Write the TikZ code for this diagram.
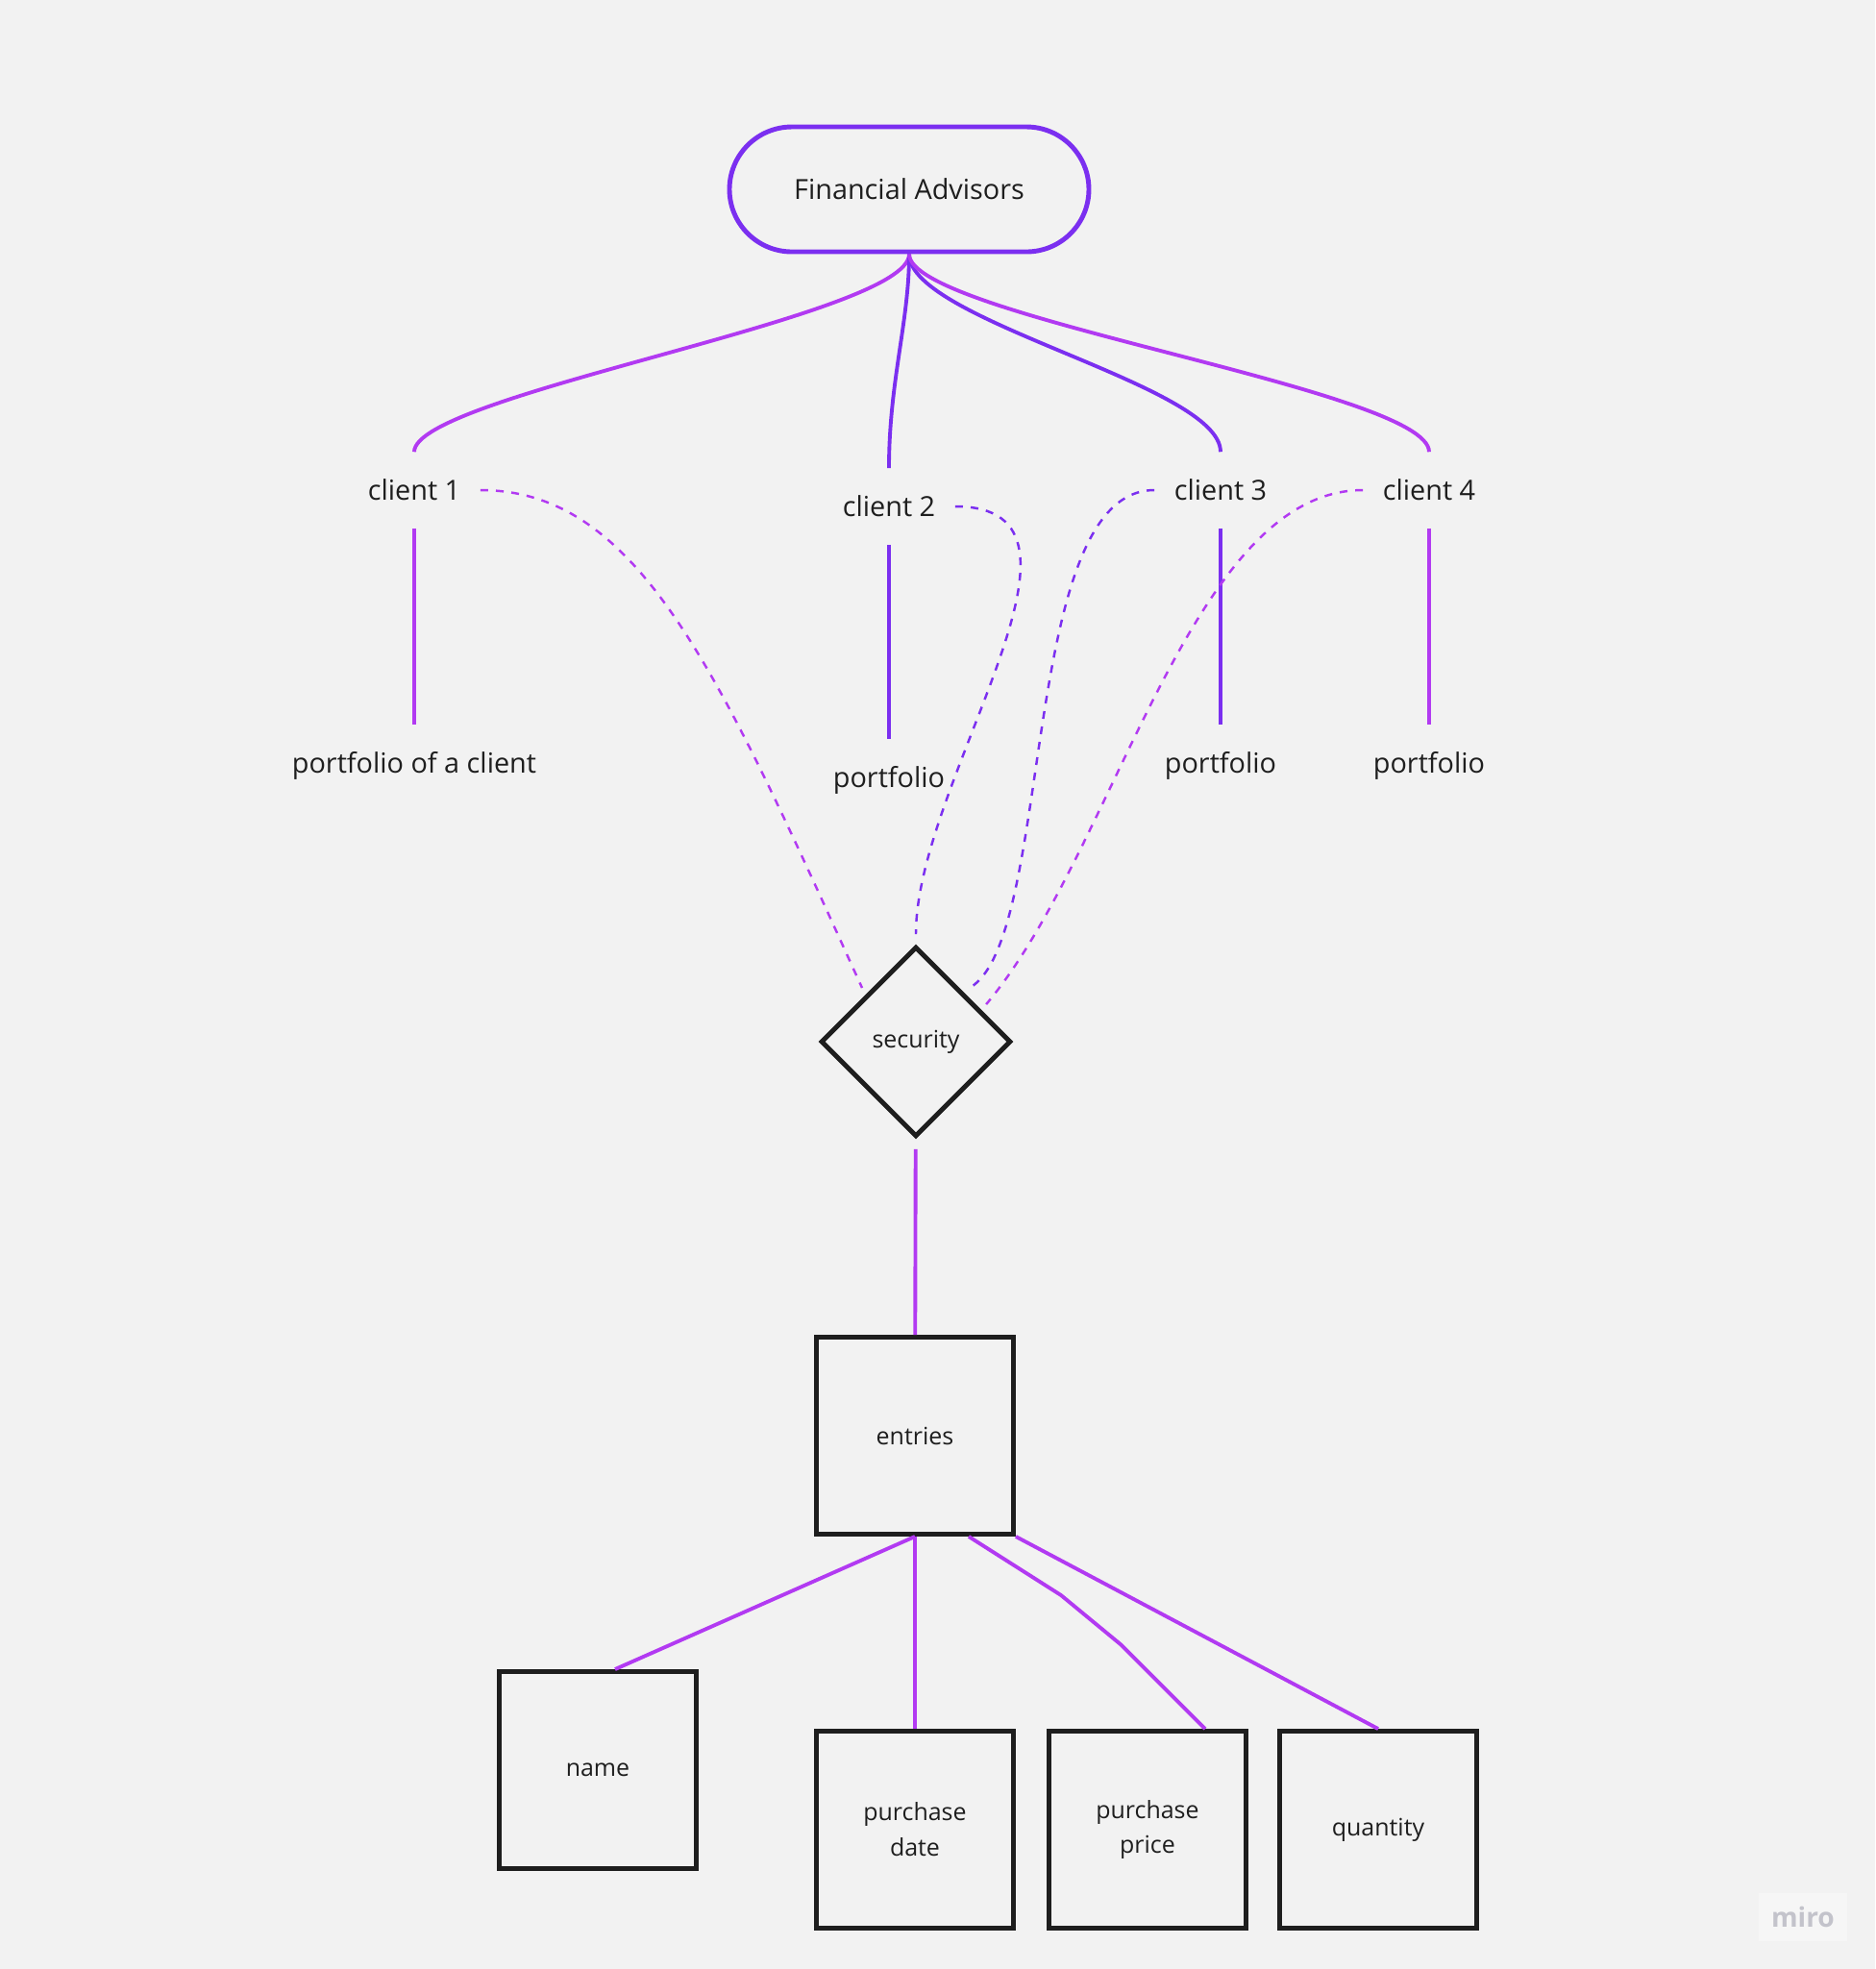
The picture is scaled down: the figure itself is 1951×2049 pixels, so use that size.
\documentclass[tikz,border=0pt]{standalone}
\usepackage{fontspec}
\setmainfont{Open Sans}
\usepackage{tikz}
\usetikzlibrary{shapes.geometric}
\usetikzlibrary{backgrounds}

\definecolor{bgcol}{HTML}{F2F2F2}
\definecolor{inkcol}{HTML}{1E1E1E}
\definecolor{violetline}{HTML}{7B2FF0}
\definecolor{pinkline}{HTML}{B23AF2}
\definecolor{mirogrey}{HTML}{C3C3CB}

\tikzset{
  pill/.style = {
    draw=violetline, line width=1.4pt, rounded corners=6.5mm,
    minimum width=37.4mm, minimum height=13mm,
    text=inkcol, font=\fontsize{8.2}{10}\selectfont,
  },
  clientlbl/.style = {
    inner xsep=2mm, inner ysep=2.8mm,
    text=inkcol, font=\fontsize{8.2}{10}\selectfont,
  },
  entity/.style = {
    draw=inkcol, line width=1.4pt, minimum size=20.5mm,
    inner sep=0pt, align=center,
    text=inkcol, font=\fontsize{7.1}{10.5}\selectfont,
  },
  relation/.style = {
    diamond, draw=inkcol, line width=1.4pt, minimum size=20.4mm,
    inner sep=0pt, outer sep=1mm,
    text=inkcol, font=\fontsize{7.1}{10}\selectfont,
  },
  link/.style = {dash pattern=on 2.3pt off 2.3pt, line width=0.7pt},
}

\begin{document}
\begin{tikzpicture}[x=0.1mm, y=-0.1mm]
        \fill[bgcol] (0,0) rectangle (1951,2049);
        \useasboundingbox (0,0) rectangle (1951,2049);

        \node[pill] (fa) at (946,197) {Financial Advisors};

        \node[clientlbl] (c1) at (431,510) {client 1};
        \node[clientlbl] (c2) at (925,527) {client 2};
        \node[clientlbl] (c3) at (1270,510) {client 3};
        \node[clientlbl] (c4) at (1487,510) {client 4};

        \node[clientlbl] (p1) at (431,797) {portfolio of a client};
        \node[clientlbl] (p2) at (925,812) {portfolio};
        \node[clientlbl] (p3) at (1270,797) {portfolio};
        \node[clientlbl] (p4) at (1487,797) {portfolio};

        \node[relation] (sec) at (953,1084) {security};
        \node[entity] (ent) at (952,1494) {entries};

        \node[entity] (nm) at (622,1842) {name};
        \node[entity] (pd) at (952,1904) {purchase\\date};
        \node[entity] (pp) at (1194,1904) {purchase\\price};
        \node[entity] (qty) at (1434,1904) {quantity};

        \begin{scope}[line width=1.1pt]
          \draw[pinkline] (fa.south) .. controls +(0,65) and +(0,-60) .. (c1.north);
          \draw[violetline] (fa.south) .. controls +(0,70) and +(0,-90) .. (c2.north);
          \draw[violetline] (fa.south) .. controls +(0,70) and +(0,-70) .. (c3.north);
          \draw[pinkline] (fa.south) .. controls +(0,65) and +(0,-65) .. (c4.north);

          \draw[pinkline] (c1) -- (p1);
          \draw[violetline] (c2) -- (p2);
          \draw[violetline] (c3) -- (p3);
          \draw[pinkline] (c4) -- (p4);
        \end{scope}

        \begin{scope}[link]
          \draw[pinkline] (c1.east) .. controls +(165,0) and +(-150,-330) .. (sec.north west);
          \draw[violetline] (c2.east) .. controls +(174,0) and +(0,-160) .. (sec.north);
          \draw[violetline] (c3.west) .. controls +(-142,0) and +(89,-52) .. (sec.north east);
          \draw[pinkline] (c4.west) .. controls +(-180,0) and +(135,-160) .. (sec.28);
        \end{scope}

        \begin{scope}[pinkline, line width=1.1pt]
          \draw (sec) -- (ent);
          \draw (ent.south) -- ([xshift=1.8mm]nm.north);
          \draw (ent.south) -- (pd.north);
          \draw ([xshift=5.6mm]ent.south) -- (1104,1660) -- (1167,1712) -- ([xshift=6mm]pp.north);
          \draw (ent.south east) -- (qty.north);
        \end{scope}

        \node[fill=white, fill opacity=0.35, text opacity=1, text=mirogrey,
              minimum width=9.2mm, minimum height=5mm,
              font=\fontsize{8}{10}\selectfont\bfseries] (miro) at (1876,1995) {miro};
\end{tikzpicture}
\end{document}
